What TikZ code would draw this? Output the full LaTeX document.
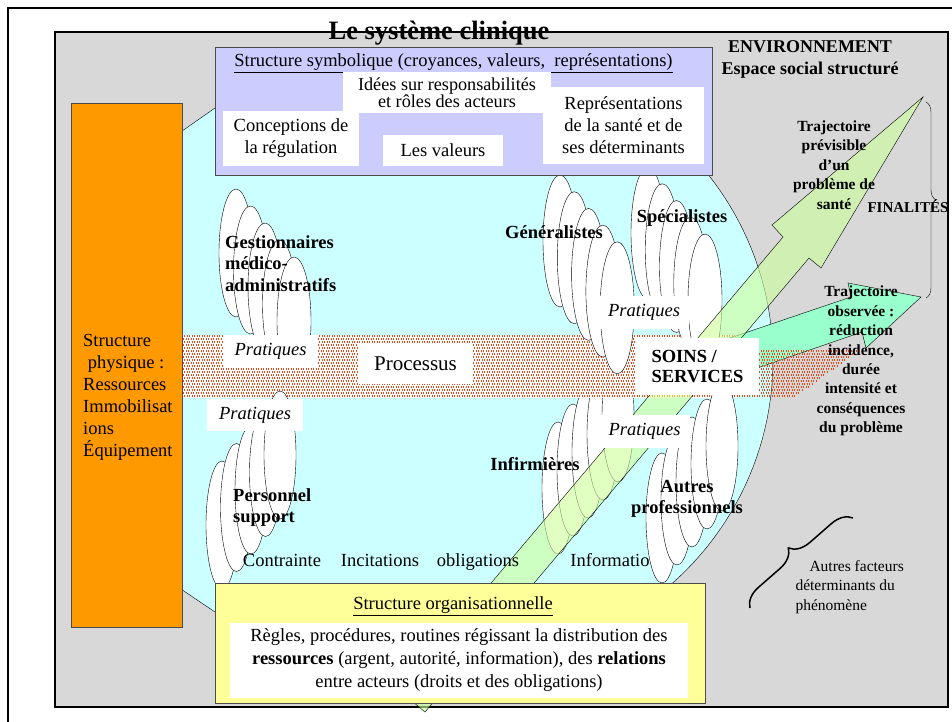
\documentclass[tikz,border=0pt]{standalone}
\usepackage{fontspec}
\setmainfont{Liberation Serif}
\usetikzlibrary{decorations.pathreplacing}

\definecolor{envgray}{RGB}{216,216,216}
\definecolor{circcyan}{RGB}{204,255,255}
\definecolor{symblue}{RGB}{204,204,255}
\definecolor{orgyellow}{RGB}{255,255,153}
\definecolor{physorange}{RGB}{255,153,0}
\definecolor{lightgreen}{RGB}{204,255,153}
\definecolor{seagreen}{RGB}{153,255,204}
\definecolor{dotred}{RGB}{232,72,24}

\begin{document}
\begin{tikzpicture}[x=1pt,y=-1pt,
  font=\fontsize{18.5}{22}\selectfont,
  wbox/.style={fill=white,inner sep=0pt,align=center},
  prat/.style={wbox,font=\fontsize{18.5}{22}\selectfont\itshape},
  actor/.style={draw,fill=white,thin},
  lab/.style={font=\fontsize{18.5}{21.5}\selectfont\bfseries,inner sep=0pt},
  traj/.style={font=\fontsize{15.5}{19.4}\selectfont\bfseries,align=center,inner sep=0pt}]
\useasboundingbox (0,0) rectangle (952,722);
\clip (0,0) rectangle (952,722);

% cadre et environnement
\draw[line width=2] (8,740) -- (8,8) -- (970,8);
\fill[envgray] (55,32) rectangle (948,707);
\node[font=\fontsize{26.5}{30}\selectfont\bfseries,anchor=base] (titre) at (439,40) {Le système clinique};
\draw[line width=1.5] (55,32) rectangle (948,707);

% le systeme
\draw[fill=circcyan] (175,136) -- (215,108) -- (236,94) -- (684,94)
  -- plot[domain=-45:50,samples=50] ({470+303*cos(\x)},{360+300*sin(\x)})
  -- (230,622) -- (212,610) -- (175,585) -- cycle;

% acteurs
\foreach \k in {0,...,4}
  \draw[actor] ({236+14.5*\k},{253+17*\k}) ellipse [x radius=17,y radius=64];
\foreach \k in {0,...,4}
  \draw[actor] ({558+15*\k},{488-18*\k}) ellipse [x radius=16,y radius=66];

\draw[fill=seagreen] (730,338) -- (851,297) -- (848,283) -- (921,297) -- (866,348) -- (862,332) -- (740,374) -- cycle;

% processus
\fill[white] (183,335) rectangle (730,398);
\foreach \y [count=\i] in {336,339,...,396} {
  \pgfmathsetmacro\xe{\y<350 ? 735 : 860-1.4*(\y-350)}
  \pgfmathsetmacro\ph{mod(\i,2)*1.25}
  \draw[dotred,line width=1.1,dash pattern=on 1.1pt off 1.4pt,dash phase=\ph pt] (183,\y) -- (\xe,\y);
}

\foreach \k in {0,...,4}
  \draw[actor] ({222+14.5*\k},{525-17.5*\k}) ellipse [x radius=16,y radius=64];
\foreach \k in {0,...,4}
  \draw[actor] ({560+14.3*\k},{241+16.7*\k}) ellipse [x radius=17,y radius=66];
\foreach \k in {0,...,4}
  \draw[actor] ({648+14.25*\k},{233+16.75*\k}) ellipse [x radius=17,y radius=66];
\foreach \k in {0,...,4}
  \draw[actor] ({662+15*\k},{518-18*\k}) ellipse [x radius=16,y radius=65];

\draw[fill=lightgreen,fill opacity=0.6] (425,712) -- (809,258) -- (821,268) -- (923,97) -- (772,225) -- (783,237) -- (400,691) -- cycle;

\node[prat,minimum width=95,minimum height=33] (prat1) at (270.5,351.5) {Pratiques};
\node[prat,minimum width=96,minimum height=32] (prat2) at (255,415) {Pratiques};
\node[prat,minimum width=90,minimum height=33] (prat3) at (644,312) {Pratiques};
\node[prat,minimum width=91,minimum height=33] (prat4) at (644.5,431.5) {Pratiques};
\node[wbox,minimum width=115,minimum height=41,font=\fontsize{21}{24}\selectfont] (proc) at (415.5,363.5) {Processus};
\node[wbox,minimum width=123,minimum height=57,align=left,font=\fontsize{18.5}{20.5}\selectfont\bfseries] (soins) at (697.5,366.5) {SOINS /\\SERVICES};

% structure symbolique
\node[draw=black!70,fill=symblue,minimum width=497,minimum height=128] (symb) at (463.5,111) {};
\node (symbt) at (453.5,63) {\underline{Structure symbolique (croyances, valeurs,\ \ représentations)}};
\node[wbox,minimum width=208,minimum height=41,font=\fontsize{18.2}{17}\selectfont] (idees) at (447,92.5) {Idées sur responsabilités\\et rôles des acteurs};
\node[wbox,minimum width=136,minimum height=55] (conc) at (291,138.5) {Conceptions de\\la régulation};
\node[wbox,minimum width=120,minimum height=31] (val) at (443,150.5) {Les valeurs};
\node[wbox,minimum width=161,minimum height=77] (repr) at (623.5,125.5) {Représentations\\de la santé et de\\ses déterminants};

% structure organisationnelle
\node[draw=black!70,fill=orgyellow,minimum width=490,minimum height=120] (orga) at (460,643) {};
\node (orgat) at (453,606) {\underline{Structure organisationnelle}};
\node[wbox,minimum width=458,minimum height=75,font=\fontsize{18.5}{23}\selectfont] (regl) at (459,660) {Règles, procédures, routines régissant la distribution des\\\textbf{ressources} (argent, autorité, information), des \textbf{relations}\\entre acteurs (droits et des obligations)};

% structure physique
\node[draw=black!70,fill=physorange,minimum width=111,minimum height=524] (phys) at (126.5,365) {};
\node[align=left,anchor=west,inner sep=0pt] (physt) at (83,397) {Structure\\\ physique :\\Ressources\\Immobilisat\\ions\\Équipement};

% etiquettes
\node[lab,align=left,anchor=west] (gest) at (225,263.5) {Gestionnaires\\médico-\\administratifs};
\node[lab] (gene) at (554,232) {Généralistes};
\node[lab] (spec) at (682,218) {Spécialistes};
\node[lab] (infi) at (535,464) {Infirmières};
\node[lab,align=center] (autr) at (687,499) {Autres\\professionnels};
\node[lab,align=left,anchor=west] (pers) at (233,507.5) {Personnel\\support};
\node[anchor=base] (contr) at (282,566) {Contrainte};
\node[anchor=base] (incit) at (380,566) {Incitations};
\node[anchor=base] (oblig) at (478,566) {obligations};
\node[anchor=base] (infor) at (610,566) {Informatio};

\node[font=\fontsize{18}{22}\selectfont\bfseries,align=center] (env) at (810,59) {ENVIRONNEMENT\\Espace social structuré};
\node[traj] (prev) at (834,165) {Trajectoire\\prévisible\\d’un\\problème de\\santé};
\node[font=\fontsize{15}{18}\selectfont\bfseries] (fin) at (908,206) {FINALITÉS};
\node[traj] (obs) at (861,361) {Trajectoire\\observée :\\réduction\\incidence,\\durée\\intensité et\\conséquences\\du problème};
\draw[decorate,decoration={brace,amplitude=10}] (926,102) -- (926,298);

\draw[line width=1.5,decorate,decoration={brace,amplitude=20}] (750,608) -- (853,518);
\node[font=\fontsize{15.5}{19.5}\selectfont,align=left,anchor=west] (autf) at (792,587) {\hspace{14pt}Autres facteurs\\déterminants du\\phénomène};
\end{tikzpicture}
\end{document}
